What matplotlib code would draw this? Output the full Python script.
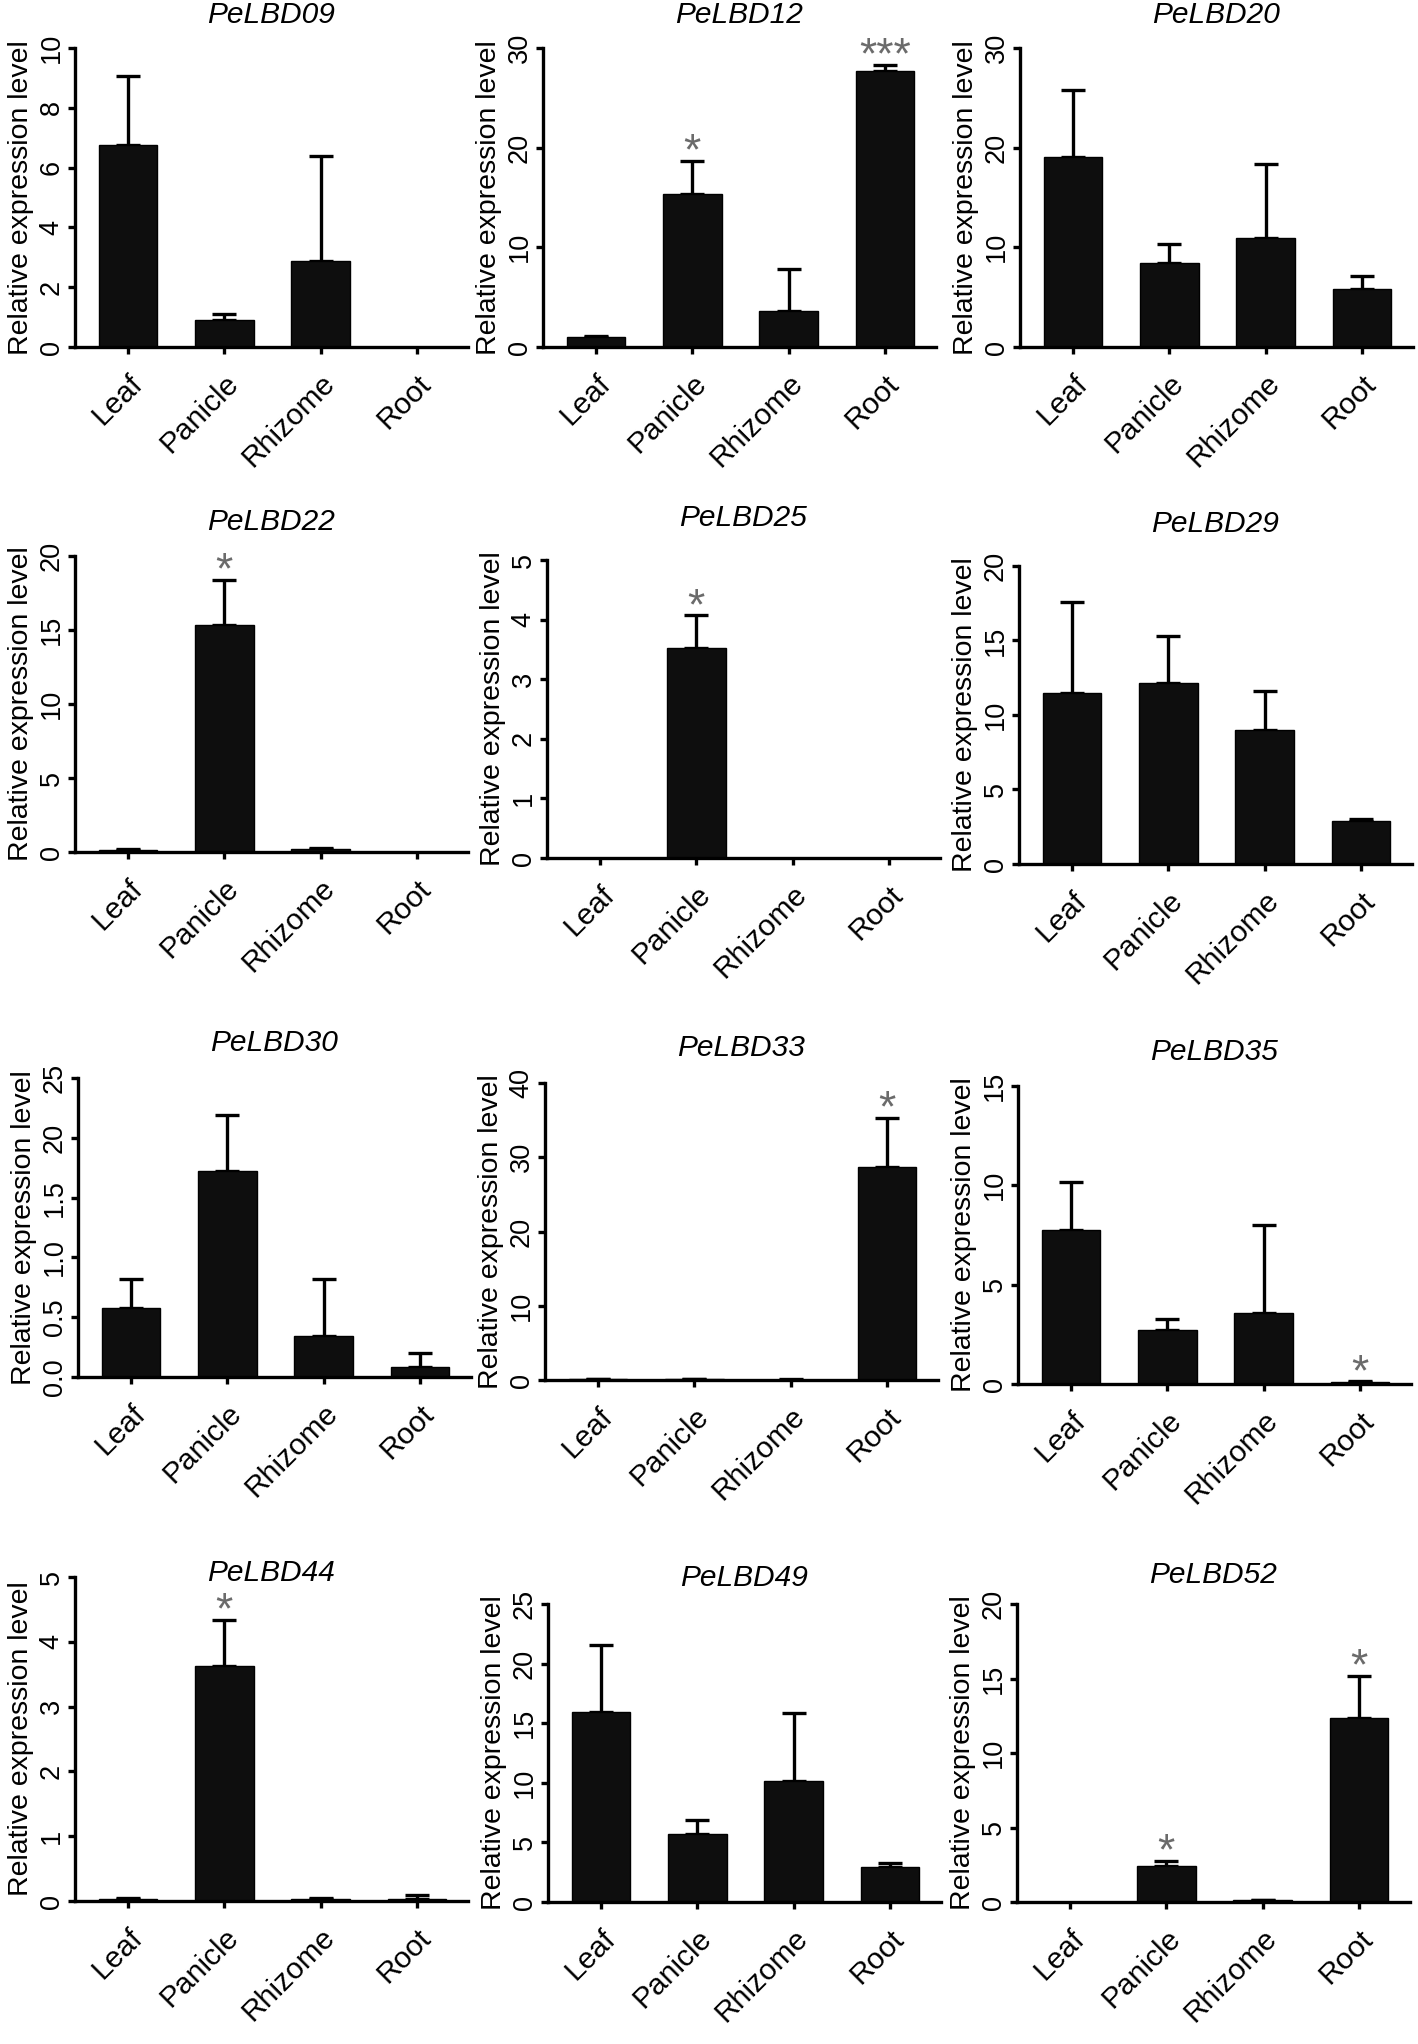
import matplotlib
matplotlib.use("Agg")
import matplotlib.pyplot as plt
from matplotlib.transforms import ScaledTranslation

plt.rcParams['font.family'] = ['Liberation Sans', 'DejaVu Sans']

W, H = 1418, 2044
DPI = 100

tissues = ["Leaf", "Panicle", "Rhizome", "Root"]
genes = ["PeLBD09", "PeLBD12", "PeLBD20",
         "PeLBD22", "PeLBD25", "PeLBD29",
         "PeLBD30", "PeLBD33", "PeLBD35",
         "PeLBD44", "PeLBD49", "PeLBD52"]

# mean expression and upper error (SE) per tissue
pelbd09_mean = [6.74, 0.89, 2.88, 0.0]
pelbd09_err = [2.31, 0.20, 3.52, 0.0]
pelbd12_mean = [1.0, 15.4, 3.6, 27.7]
pelbd12_err = [0.15, 3.3, 4.25, 0.6]
pelbd20_mean = [19.1, 8.45, 10.9, 5.8]
pelbd20_err = [6.7, 1.85, 7.5, 1.34]
pelbd22_mean = [0.15, 15.37, 0.18, 0.0]
pelbd22_err = [0.05, 3.03, 0.07, 0.0]
pelbd25_mean = [0.0, 3.52, 0.0, 0.0]
pelbd25_err = [0.0, 0.55, 0.0, 0.0]
pelbd29_mean = [11.46, 12.13, 8.96, 2.86]
pelbd29_err = [6.1, 3.2, 2.64, 0.18]
pelbd30_mean = [0.58, 1.72, 0.34, 0.08]
pelbd30_err = [0.24, 0.47, 0.48, 0.12]
pelbd33_mean = [0.13, 0.13, 0.05, 28.7]
pelbd33_err = [0.05, 0.05, 0.02, 6.6]
pelbd35_mean = [7.75, 2.7, 3.57, 0.1]
pelbd35_err = [2.4, 0.58, 4.43, 0.03]
pelbd44_mean = [0.03, 3.62, 0.03, 0.03]
pelbd44_err = [0.01, 0.72, 0.02, 0.07]
pelbd49_mean = [15.92, 5.72, 10.15, 2.94]
pelbd49_err = [5.66, 1.2, 5.74, 0.36]
pelbd52_mean = [0.0, 2.39, 0.13, 12.37]
pelbd52_err = [0.0, 0.34, 0.02, 2.78]

# significance marks
pelbd12_sig = ["", "*", "", "***"]
pelbd22_sig = ["", "*", "", ""]
pelbd25_sig = ["", "*", "", ""]
pelbd33_sig = ["", "", "", "*"]
pelbd35_sig = ["", "", "", "*"]
pelbd44_sig = ["", "*", "", ""]
pelbd52_sig = ["", "*", "", "*"]
no_sig = ["", "", "", ""]

# y axis ticks
pelbd09_yticks = [0, 2, 4, 6, 8, 10]
pelbd12_yticks = [0, 10, 20, 30]
pelbd20_yticks = [0, 10, 20, 30]
pelbd22_yticks = [0, 5, 10, 15, 20]
pelbd25_yticks = [0, 1, 2, 3, 4, 5]
pelbd29_yticks = [0, 5, 10, 15, 20]
pelbd30_yticks = [0, 0.5, 1.0, 1.5, 2.0, 2.5]
pelbd30_ylabels = ["0.0", "0.5", "1.0", "1.5", "20", "25"]
pelbd33_yticks = [0, 10, 20, 30, 40]
pelbd35_yticks = [0, 5, 10, 15]
pelbd44_yticks = [0, 1, 2, 3, 4, 5]
pelbd49_yticks = [0, 5, 10, 15, 20, 25]
pelbd52_yticks = [0, 5, 10, 15, 20]

means = [pelbd09_mean, pelbd12_mean, pelbd20_mean, pelbd22_mean, pelbd25_mean, pelbd29_mean,
         pelbd30_mean, pelbd33_mean, pelbd35_mean, pelbd44_mean, pelbd49_mean, pelbd52_mean]
errs = [pelbd09_err, pelbd12_err, pelbd20_err, pelbd22_err, pelbd25_err, pelbd29_err,
        pelbd30_err, pelbd33_err, pelbd35_err, pelbd44_err, pelbd49_err, pelbd52_err]
sigs = [no_sig, pelbd12_sig, no_sig, pelbd22_sig, pelbd25_sig, no_sig,
        no_sig, pelbd33_sig, pelbd35_sig, pelbd44_sig, no_sig, pelbd52_sig]
yticks = [pelbd09_yticks, pelbd12_yticks, pelbd20_yticks, pelbd22_yticks, pelbd25_yticks,
          pelbd29_yticks, pelbd30_yticks, pelbd33_yticks, pelbd35_yticks, pelbd44_yticks,
          pelbd49_yticks, pelbd52_yticks]

# layout in pixels: (y-axis x, top of axis, bottom of axis, title y)
panel_px = [(75, 48, 347, 15), (543, 48, 347, 15), (1020, 48, 347, 15),
            (75, 556, 852, 522), (547, 560, 858, 518), (1019, 566, 864, 524),
            (78, 1078, 1377, 1043), (545, 1083, 1380, 1048), (1018, 1086, 1384, 1052),
            (75, 1577, 1901, 1573), (548, 1604, 1902, 1578), (1017, 1604, 1902, 1575)]
AX_W = 393
LW = 2.4

fig = plt.figure(figsize=(W / DPI, H / DPI), dpi=DPI)

for i, gene in enumerate(genes):
    x0, ytop, ybot, ty = panel_px[i]
    ax = fig.add_axes([x0 / W, 1 - ybot / H, AX_W / W, (ybot - ytop) / H])
    mean, err = means[i], errs[i]
    pos = list(range(len(tissues)))

    ax.bar(pos, mean, width=0.61, color='#0e0e0e', edgecolor='black', linewidth=1.0, zorder=2)
    idx = [k for k in pos if err[k] > 0]
    ax.errorbar(idx, [mean[k] for k in idx],
                yerr=[[0] * len(idx), [err[k] for k in idx]],
                fmt='none', ecolor='black', elinewidth=LW, capsize=8.6, capthick=LW, zorder=1)

    for k in pos:
        if sigs[i][k]:
            ax.annotate(sigs[i][k], (k, mean[k] + err[k]), xytext=(0, -2.5),
                        textcoords='offset points', ha='center', va='baseline',
                        fontsize=32, color='#6b6b6b', annotation_clip=False)

    ax.set_xlim(-0.55, 3.53)
    ax.set_ylim(0, yticks[i][-1])
    ax.set_yticks(yticks[i])
    if gene == "PeLBD30":
        ax.set_yticklabels(pelbd30_ylabels)
    ax.set_xticks(pos)
    ax.set_xticklabels(tissues, rotation=45, ha='right', va='top',
                       rotation_mode='anchor', fontsize=21.5)
    for lab in ax.get_xticklabels():
        lab.set_transform(lab.get_transform() + ScaledTranslation(3 / DPI, 0, fig.dpi_scale_trans))

    for s in ['top', 'right']:
        ax.spines[s].set_visible(False)
    for s in ['left', 'bottom']:
        ax.spines[s].set_linewidth(LW)
    ax.tick_params(axis='x', length=5, width=LW, pad=11, direction='out')
    ax.tick_params(axis='y', length=5, width=LW, pad=2.5, direction='out',
                   labelsize=19.5, labelrotation=90)
    for lab in ax.get_yticklabels():
        lab.set_va('center')

    ax.set_ylabel("Relative expression level", fontsize=20.5)
    ax.yaxis.set_label_coords(-0.105, 0.5)

    fig.text((x0 + AX_W / 2) / W, 1 - ty / H, gene, ha='center', va='center',
             style='italic', fontsize=21.5)

fig.savefig("out.png", dpi=DPI)
plt.close(fig)
